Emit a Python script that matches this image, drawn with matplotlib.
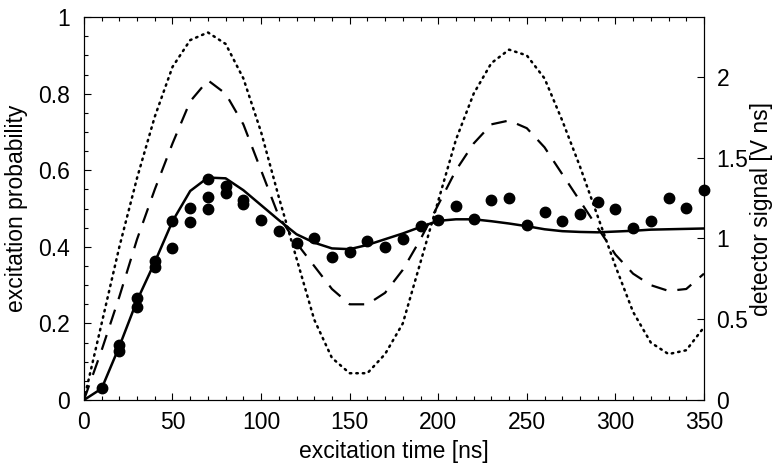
import matplotlib
matplotlib.use("Agg")
import matplotlib.pyplot as plt
from matplotlib.ticker import MultipleLocator

plt.rcParams['font.family'] = ['Liberation Sans', 'DejaVu Sans']

# measured points (first set)
pts_x = [10, 20, 30, 40, 50, 60, 70, 80, 90, 100, 110, 120, 130, 140, 150, 160, 170,
         180, 190, 200, 210, 220, 230, 240, 250, 260, 270, 280, 290, 300, 310, 320,
         330, 340, 350]
pts_y = [0.031, 0.145, 0.266, 0.363, 0.467, 0.501, 0.577, 0.559, 0.522, 0.470, 0.441,
         0.409, 0.424, 0.373, 0.386, 0.415, 0.400, 0.420, 0.455, 0.469, 0.506, 0.472,
         0.522, 0.527, 0.457, 0.490, 0.468, 0.486, 0.516, 0.499, 0.448, 0.468, 0.528,
         0.502, 0.548]
# measured points (repeat set)
rep_x = [20, 30, 40, 50, 60, 70, 70, 80, 90]
rep_y = [0.128, 0.242, 0.348, 0.397, 0.465, 0.530, 0.499, 0.541, 0.511]

# model curves
t = [0, 10, 20, 30, 40, 50, 60, 70, 80, 90, 100, 110, 120, 130, 140, 150, 160, 170,
     180, 190, 200, 210, 220, 230, 240, 250, 260, 270, 280, 290, 300, 310, 320, 330,
     340, 350]
solid = [0.0, 0.03, 0.14, 0.26, 0.36, 0.467, 0.546, 0.581, 0.579, 0.548, 0.509, 0.470,
         0.433, 0.411, 0.396, 0.394, 0.405, 0.420, 0.435, 0.452, 0.468, 0.472, 0.472,
         0.467, 0.461, 0.454, 0.446, 0.441, 0.439, 0.438, 0.440, 0.442, 0.445, 0.446,
         0.447, 0.448]
dashed = [0.0, 0.13, 0.27, 0.42, 0.55, 0.67, 0.78, 0.835, 0.80, 0.72, 0.60, 0.48, 0.41,
          0.35, 0.29, 0.25, 0.25, 0.28, 0.34, 0.42, 0.51, 0.60, 0.67, 0.72, 0.73, 0.71,
          0.66, 0.59, 0.52, 0.45, 0.38, 0.33, 0.30, 0.285, 0.29, 0.33]
dotted = [0.0, 0.20, 0.40, 0.58, 0.74, 0.87, 0.94, 0.96, 0.93, 0.84, 0.70, 0.53, 0.37,
          0.21, 0.11, 0.07, 0.07, 0.12, 0.20, 0.36, 0.52, 0.68, 0.80, 0.88, 0.915, 0.90,
          0.84, 0.73, 0.61, 0.48, 0.35, 0.23, 0.15, 0.12, 0.13, 0.19]

xticks = [0, 50, 100, 150, 200, 250, 300, 350]
yticks = [0, 0.2, 0.4, 0.6, 0.8, 1]
yticklabels = ['0', '0.2', '0.4', '0.6', '0.8', '1']
rticks = [0, 0.5, 1, 1.5, 2]
rticklabels = ['0', '0.5', '1', '1.5', '2']

FS = 16.5

fig = plt.figure(figsize=(7.77, 4.63), dpi=100)
ax = fig.add_axes([0.108, 0.136, 0.798, 0.827])

ax.plot(t, dotted, color='black', lw=1.8, linestyle=(0, (0.6, 2.0)), dash_capstyle='round')
ax.plot(t, dashed, color='black', lw=1.6, linestyle=(0, (7, 5)))
ax.plot(t, solid, color='black', lw=1.8)
ax.plot(pts_x, pts_y, 'o', color='black', ms=7.5, clip_on=False)
ax.plot(rep_x, rep_y, 'o', color='black', ms=7.5)

ax.set_xlim(0, 350)
ax.set_ylim(0, 1)
ax.set_xticks(xticks)
ax.set_xticklabels([str(v) for v in xticks])
ax.set_yticks(yticks)
ax.set_yticklabels(yticklabels)
ax.xaxis.set_minor_locator(MultipleLocator(10))
ax.yaxis.set_minor_locator(MultipleLocator(0.05))
ax.tick_params(which='both', direction='in', top=True, labelsize=FS)
ax.tick_params(axis='x', pad=8)
ax.tick_params(axis='y', pad=10)
ax.tick_params(which='major', length=5, width=0.8)
ax.tick_params(which='minor', length=3, width=0.8)
ax.set_xlabel('excitation time [ns]', fontsize=FS, labelpad=4)
ax.set_ylabel('excitation probability', fontsize=FS, labelpad=7)

ax2 = ax.twinx()
ax2.set_ylim(0, 2.37)
ax2.set_yticks(rticks)
ax2.set_yticklabels(rticklabels)
ax2.tick_params(which='both', direction='in', labelsize=FS, length=5, width=0.8, pad=9)
ax2.set_ylabel('detector signal [V ns]', fontsize=FS, labelpad=1)

fig.savefig('out.png', dpi=100)
